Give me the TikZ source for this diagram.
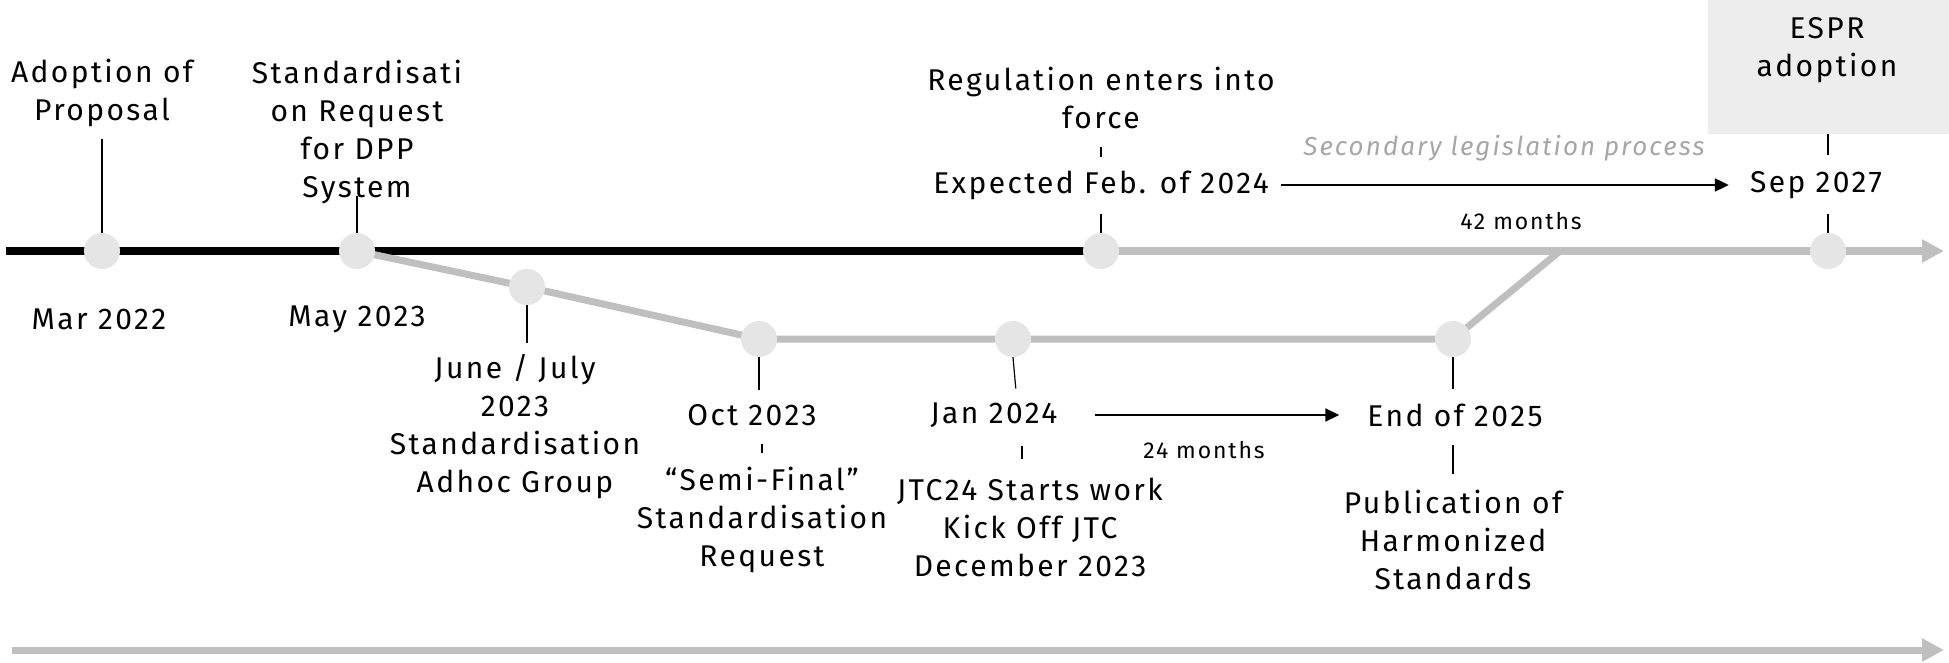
\documentclass[tikz,border=0pt]{standalone}
\usepackage{fontspec}
\setmainfont{Fira Sans}[LetterSpace=8]
\usetikzlibrary{arrows.meta, positioning, calc, backgrounds}
\definecolor{trackgray}{HTML}{BFBFBF}
\definecolor{dotgray}{HTML}{E5E5E5}
\definecolor{boxgray}{HTML}{EDEDED}
\definecolor{softtext}{HTML}{A6A6A6}

\begin{document}
\begin{tikzpicture}[x=1pt, y=-1pt,
    dot/.style={circle, fill=dotgray, minimum size=36pt, inner sep=0pt},
    txt/.style={align=center, inner sep=0pt, font=\fontsize{30}{38}\selectfont},
    small/.style={inner sep=0pt, font=\fontsize{23}{26}\selectfont},
    track/.style={line width=7pt, trackgray},
    trackarrow/.style={track, -{Triangle[length=22pt, width=22pt]}},
    tick/.style={line width=1.2pt},
    arr/.style={line width=2pt, -{Triangle[length=14pt, width=13pt]}}]
  \useasboundingbox (0,0) rectangle (1949,663);

  % ESPR box
  \node[fill=boxgray, minimum width=241pt, minimum height=134pt, inner sep=0pt,
        anchor=north west] (esprbox) at (1708,0) {};
  \node[txt] (espr) at (1827,50) {ESPR\\adoption};

  % milestones on the main line
  \node[dot] (m1) at (102,251) {};
  \node[dot] (m2) at (357,251) {};
  \node[dot] (m3) at (1101,251) {};
  \node[dot] (m4) at (1828,251) {};
  % milestones on the branch
  \node[dot] (b1) at (527,287) {};
  \node[dot] (b2) at (759,339) {};
  \node[dot] (b3) at (1013,339) {};
  \node[dot] (b4) at (1453,339) {};

  \coordinate (trackstart) at (6,251);
  \coordinate (trackend) at (1944,251);
  \coordinate (merge) at (1560,251);
  \coordinate (axisstart) at (12,650);
  \coordinate (axisend) at (1944,650);

  % labels
  \node[txt] (adopt) at (102,93) {Adoption of\\Proposal};
  \node[txt] (sreq) at (357,132) {Standardisati\\on Request\\for DPP\\System};
  \node[txt] (mar) at (99,319) {Mar 2022};
  \node[txt] (may) at (357,319) {May 2023};
  \node[txt] (june) at (515,427) {June / July\\2023\\Standardisation\\Adhoc Group};
  \node[txt] (oct) at (752,415) {Oct 2023};
  \node[txt] (semi) at (762,520) {“Semi-Final”\\Standardisation\\Request};
  \node[txt] (jan) at (994,415) {Jan 2024};
  \node[txt] (jtc) at (1030,527) {JTC24 Starts work\\Kick Off JTC\\December 2023};
  \node[txt] (endyr) at (1455,415) {End of 2025};
  \node[txt] (pub) at (1453,540) {Publication of\\Harmonized\\Standards};
  \node[txt] (reg) at (1101,98) {Regulation enters into\\force};
  \node[txt] (expt) at (1101,185) {Expected Feb. of 2024};
  \node[txt, softtext, font=\fontsize{26}{30}\selectfont\itshape] (sec) at (1504,148)
    {Secondary legislation process};
  \node[txt] (sep) at (1816,185) {Sep 2027};
  \node[small] (m42) at (1521,221) {42 months};
  \node[small] (m24) at (1204,450) {24 months};

  % tracks
  \begin{scope}[on background layer]
    \draw[line width=8pt] (trackstart) -- (m3.center);
    \draw[trackarrow] (m3.center) -- (trackend);
    \draw[track, line join=round] (m2.center) -- (b1.center) -- (b2.center)
      -- (b3.center) -- (b4.center) -- (merge);
    \draw[trackarrow] (axisstart) -- (axisend);
  \end{scope}

  % ticks
  \draw[tick, shorten <=12pt] (adopt.south) -- (m1.north);
  \draw[tick, shorten <=-8pt] (sreq.south) -- (m2.north);
  \draw[tick, shorten <=18pt, shorten >=13pt] (reg.south) -- (expt.north);
  \draw[tick, shorten <=14pt] (expt.south) -- (m3.north);
  \draw[tick, shorten >=12pt] (b1.south) -- (june.north -| b1.south);
  \draw[tick, shorten >=14pt] (b2.south) -- (oct.north -| b2.south);
  \draw[tick, shorten <=18pt, shorten >=14pt] (oct.south -| semi.north) -- (semi.north);
  \draw[tick, shorten >=14pt] (b3.south) -- ($(jan.north -| b3.south)+(4,0)$);
  \draw[tick, shorten <=18pt, shorten >=18pt] ($(jan.south -| b3.south)+(9,0)$) -- ($(jtc.north -| b3.south)+(9,0)$);
  \draw[tick, shorten >=14pt] (b4.south) -- (endyr.north -| b4.south);
  \draw[tick, shorten <=18pt, shorten >=16pt] (endyr.south -| pub.north) -- (pub.north);
  \draw[tick] (esprbox.south -| m4.north) -- ($(esprbox.south -| m4.north)+(0,21)$);
  \draw[tick, shorten <=15pt] (sep.south -| m4.north) -- (m4.north);

  % durations
  \draw[arr, shorten <=12pt, shorten >=21pt] (expt.east) -- (sep.west);
  \draw[arr, shorten <=37pt, shorten >=28pt] (jan.east) -- (endyr.west);
\end{tikzpicture}
\end{document}
